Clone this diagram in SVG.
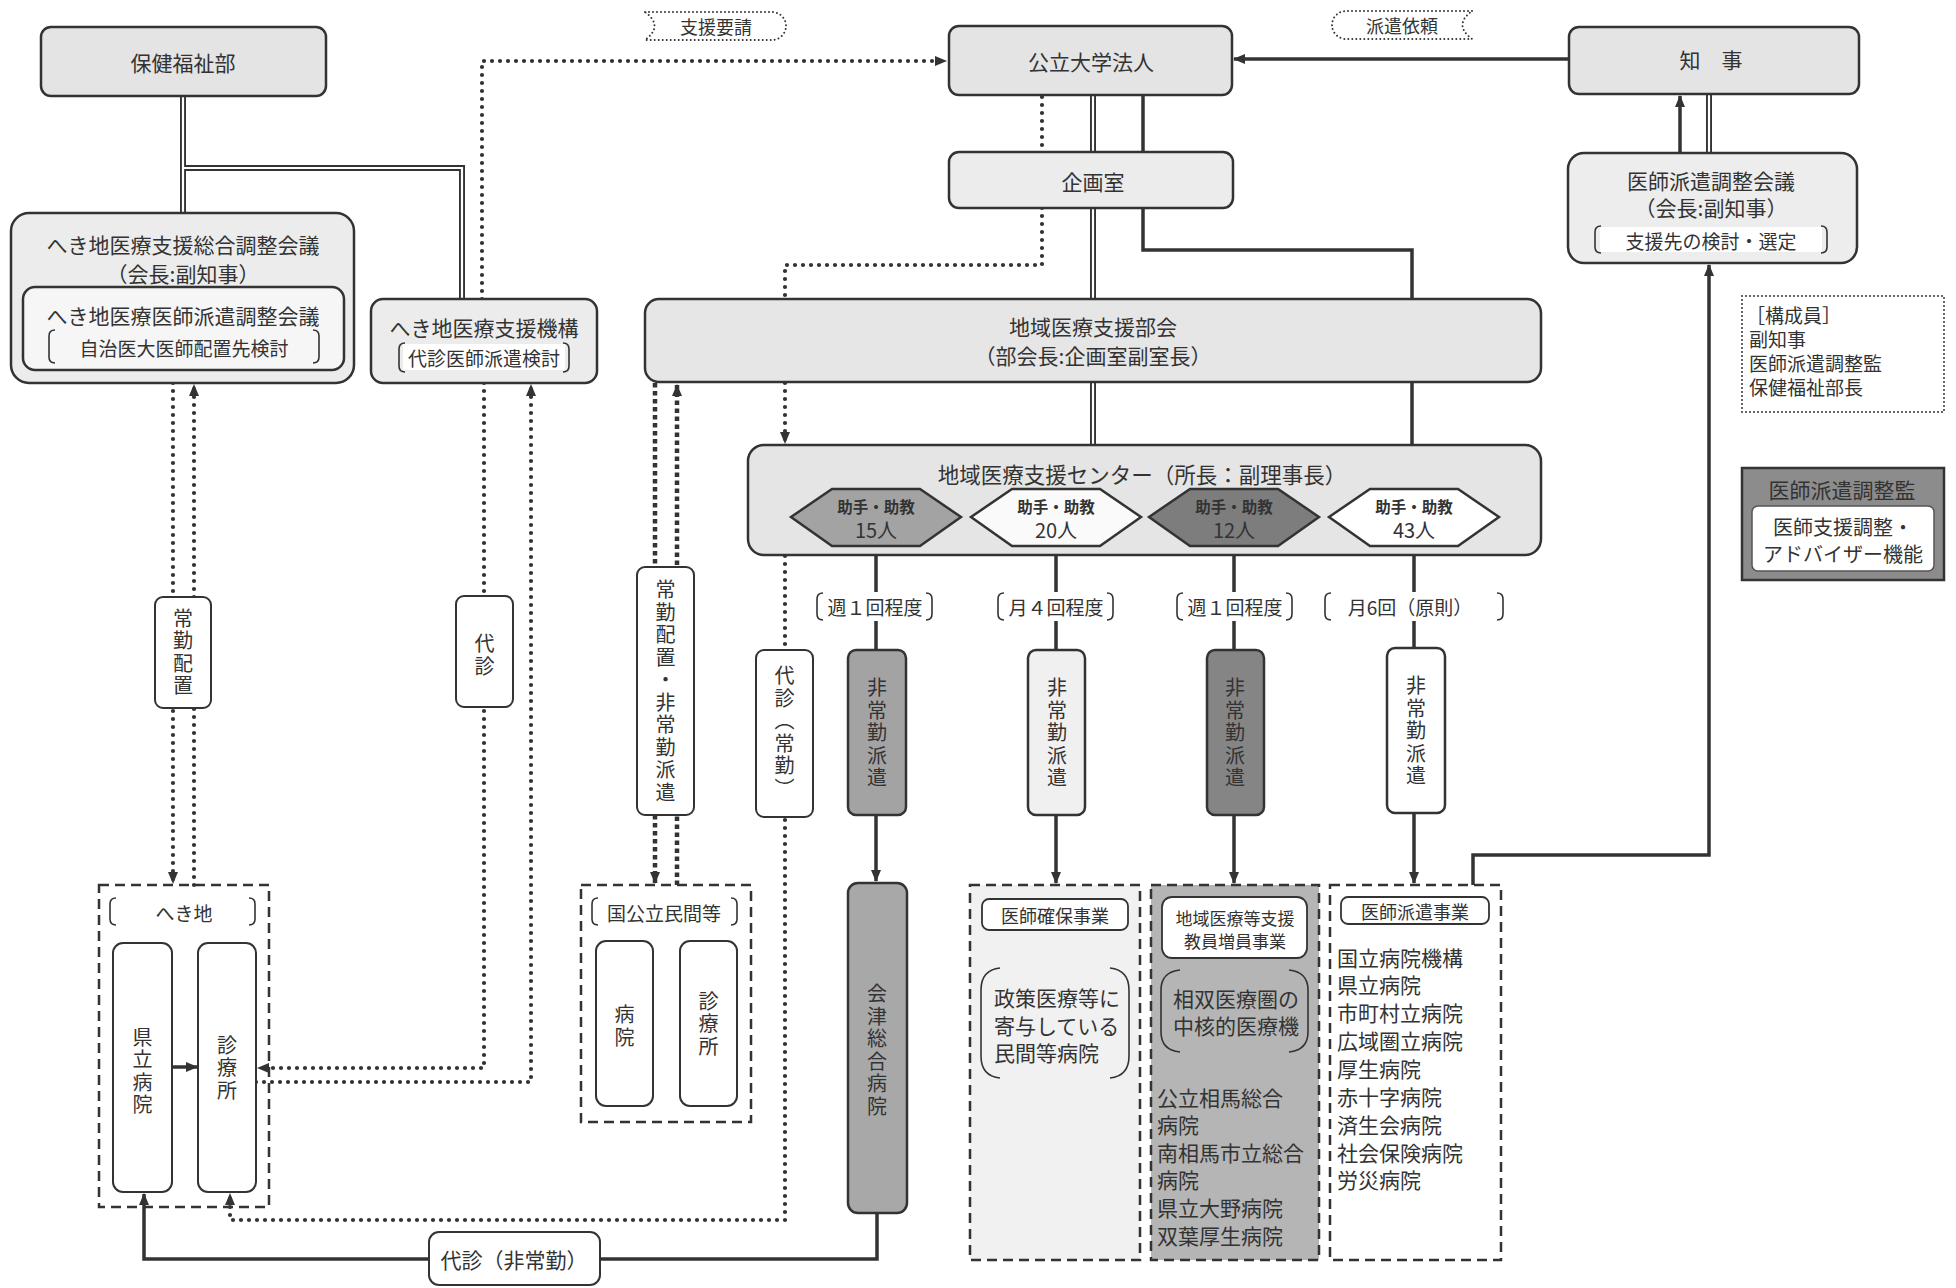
<svg xmlns="http://www.w3.org/2000/svg" width="1956" height="1288" viewBox="0 0 1956 1288">
<defs>
<style>
.t{font-family:"Noto Sans CJK JP","Noto Sans",sans-serif;fill:#333;font-size:21px;text-anchor:middle;dominant-baseline:central}
.s{font-size:19px}
.l{text-anchor:start}
.v{writing-mode:vertical-rl;font-size:20px;letter-spacing:2.5px}
.hx{font-size:15.5px;font-weight:bold}
.num{font-size:20px}
.b{fill:#e4e4e4;stroke:#333;stroke-width:2.5}
.w{fill:#fff;stroke:#333;stroke-width:2}
.br{fill:none;stroke:#333;stroke-width:1.6}
.dash{stroke:#333;stroke-width:2.5;stroke-dasharray:10 6}
.sol{fill:none;stroke:#333;stroke-width:3.5}
.dbo{fill:none;stroke:#333;stroke-width:6}
.dbi{fill:none;stroke:#fff;stroke-width:2.2}
.dot{fill:none;stroke:#333;stroke-width:4.2;stroke-dasharray:0 8;stroke-linecap:round}
.sq{fill:none;stroke:#333;stroke-width:4.5;stroke-dasharray:4.5 3.5}
.lbl{fill:none;stroke:#333;stroke-width:2;stroke-dasharray:0 4;stroke-linecap:round}
</style>
<marker id="ah" viewBox="0 0 12 10" refX="11" refY="5" markerWidth="12" markerHeight="10" markerUnits="userSpaceOnUse" orient="auto"><path d="M0,0 L12,5 L0,10 z" fill="#333"/></marker>
</defs>
<rect width="1956" height="1288" fill="#fff"/>

<g id="connectors">
<path class="dbo" d="M183,96 V213 M183,168 H462 V299 M1093,95 V152 M1093,208 V445 M1709,94 V153"/>
<path class="dbi" d="M183,96 V213 M183,168 H462 V299 M1093,95 V152 M1093,208 V445 M1709,94 V153"/>
<path class="sol" d="M1143,95 V152"/>
<path class="sol" d="M1143,208 V250 H1412 V488" marker-end="url(#ah)"/>
<path class="sol" d="M1569,59 H1234" marker-end="url(#ah)"/>
<path class="sol" d="M1680,153 V96" marker-end="url(#ah)"/>
<path class="sol" d="M1473,885 V855 H1709 V265" marker-end="url(#ah)"/>
<path class="sol" d="M876,546 V592 M876,621 V650"/>
<path class="sol" d="M876,815 V881" marker-end="url(#ah)"/>
<path class="sol" d="M1056,546 V592 M1056,621 V650"/>
<path class="sol" d="M1056,815 V883" marker-end="url(#ah)"/>
<path class="sol" d="M1234,546 V592 M1234,621 V650"/>
<path class="sol" d="M1234,815 V883" marker-end="url(#ah)"/>
<path class="sol" d="M1414,546 V592 M1414,621 V648"/>
<path class="sol" d="M1414,813 V883" marker-end="url(#ah)"/>
<path class="sol" d="M877,1213 V1259 H600"/>
<path class="sol" d="M429,1259 H144 V1194" marker-end="url(#ah)"/>
<path class="sol" d="M172,1067 H197" stroke-width="5" marker-end="url(#ah)"/>
<path class="dot" d="M173,383 V883" marker-end="url(#ah)"/>
<path class="dot" d="M194,885 V385" marker-end="url(#ah)"/>
<path class="dot" d="M482,299 V61 H946" marker-end="url(#ah)"/>
<path class="dot" d="M484,383 V1068 H258" marker-end="url(#ah)"/>
<path class="dot" d="M256,1082 H531 V385" marker-end="url(#ah)"/>
<path class="dot" d="M1042,97 V152"/>
<path class="dot" d="M1042,208 V265 H785 V443" marker-end="url(#ah)"/>
<path class="dot" d="M785,556 V1220 H230 V1194" marker-end="url(#ah)"/>
<path class="sq" d="M655,383 V883" marker-end="url(#ah)"/>
<path class="sq" d="M677,885 V385" marker-end="url(#ah)"/>
</g>

<g id="label-shienyousei">
<path class="lbl" d="M645,12 H772 A14,14 0 0 1 772,40 H645 Q664,26 645,12 Z"/>
<text class="t" x="716" y="26" style="font-size:18px">支援要請</text>
</g>
<g id="label-hakenirai">
<path class="lbl" d="M1472,11 H1346 A14,14 0 0 0 1346,39 H1472 Q1453,25 1472,11 Z"/>
<text class="t" x="1402" y="25" style="font-size:18px">派遣依頼</text>
</g>

<g id="hokenfukushibu">
<rect class="b" x="41" y="27" width="285" height="69" rx="10"/>
<text class="t" x="183" y="62">保健福祉部</text>
</g>

<g id="koritsudaigaku">
<rect class="b" x="949" y="26" width="283" height="69" rx="10"/>
<text class="t" x="1091" y="61">公立大学法人</text>
</g>

<g id="chiji">
<rect class="b" x="1569" y="27" width="290" height="67" rx="10"/>
<text class="t" x="1711" y="59">知　事</text>
</g>

<g id="kikakushitsu">
<rect class="b" x="949" y="152" width="284" height="56" rx="10" style="fill:#ececec"/>
<text class="t" x="1093" y="181">企画室</text>
</g>

<g id="ishihaken-kaigi">
<rect class="b" x="1568" y="153" width="289" height="110" rx="16" style="fill:#ededed"/>
<text class="t" x="1711" y="180">医師派遣調整会議</text>
<text class="t" x="1711" y="207">（会長:副知事）</text>
<rect x="1600" y="227" width="222" height="25" fill="#fff"/>
<path class="br" d="M1601,226 Q1595,226 1595,232 V247 Q1595,253 1601,253 M1821,226 Q1827,226 1827,232 V247 Q1827,253 1821,253"/>
<text class="t s" x="1711" y="240">支援先の検討・選定</text>
</g>

<g id="hekichi-sogo">
<rect class="b" x="11" y="213" width="343" height="170" rx="18" style="fill:#ececec"/>
<text class="t" x="183" y="244">へき地医療支援総合調整会議</text>
<text class="t" x="183" y="273">（会長:副知事）</text>
<rect x="23" y="287" width="321" height="83" rx="12" fill="#f6f6f6" stroke="#333" stroke-width="2.5"/>
<text class="t" x="183" y="315">へき地医療医師派遣調整会議</text>
<path class="br" d="M55,330 Q49,330 49,336 V357 Q49,363 55,363 M313,330 Q319,330 319,336 V357 Q319,363 313,363"/>
<text class="t s" x="184" y="347">自治医大医師配置先検討</text>
</g>

<g id="hekichi-kiko">
<rect class="b" x="371" y="299" width="226" height="84" rx="12" style="fill:#ececec"/>
<text class="t" x="484" y="327">へき地医療支援機構</text>
<rect x="403" y="344" width="162" height="26" fill="#fff"/>
<path class="br" d="M405,343 Q399,343 399,349 V366 Q399,372 405,372 M563,343 Q569,343 569,349 V366 Q569,372 563,372"/>
<text class="t s" x="484" y="357">代診医師派遣検討</text>
</g>

<g id="chiiki-bukai">
<rect class="b" x="645" y="299" width="896" height="83" rx="14" style="fill:#e6e6e6"/>
<text class="t" x="1093" y="326">地域医療支援部会</text>
<text class="t" x="1093" y="355">（部会長:企画室副室長）</text>
</g>

<g id="koseiin">
<rect x="1742" y="296" width="202" height="116" fill="#fff" stroke="#333" stroke-width="2" stroke-dasharray="0 4" stroke-linecap="round"/>
<text class="t l s" x="1746" y="314">［構成員］</text>
<text class="t l s" x="1749" y="338">副知事</text>
<text class="t l s" x="1749" y="362">医師派遣調整監</text>
<text class="t l s" x="1749" y="386">保健福祉部長</text>
</g>

<g id="ishihaken-kantoku">
<rect x="1742" y="468" width="202" height="112" fill="#8c8c8c" stroke="#333" stroke-width="2.5"/>
<text class="t" x="1842" y="489">医師派遣調整監</text>
<rect x="1752" y="506" width="182" height="65" rx="6" fill="#fff" stroke="#555" stroke-width="1.5"/>
<text class="t num" x="1843" y="526">医師支援調整・</text>
<text class="t num" x="1843" y="553">アドバイザー機能</text>
</g>

<g id="center">
<rect class="b" x="748" y="445" width="793" height="110" rx="16" style="fill:#e5e5e5"/>
<text class="t" x="1142" y="473" style="font-size:21.5px">地域医療支援センター（所長：副理事長）</text>
</g>

<g id="hex-15">
<polygon points="791,517 832,489 920,489 961,517 920,546 832,546" fill="#a3a3a3" stroke="#333" stroke-width="2.5"/>
<text class="t hx" x="876" y="506">助手・助教</text>
<text class="t num" x="876" y="529">15人</text>
</g>
<g id="hex-20">
<polygon points="971,517 1012,489 1100,489 1141,517 1100,546 1012,546" fill="#fafafa" stroke="#333" stroke-width="2.5"/>
<text class="t hx" x="1056" y="506">助手・助教</text>
<text class="t num" x="1056" y="529">20人</text>
</g>
<g id="hex-12">
<polygon points="1149,517 1190,489 1278,489 1319,517 1278,546 1190,546" fill="#7d7d7d" stroke="#333" stroke-width="2.5"/>
<text class="t hx" x="1234" y="506">助手・助教</text>
<text class="t num" x="1234" y="529">12人</text>
</g>
<g id="hex-43">
<polygon points="1329,517 1370,489 1458,489 1499,517 1458,546 1370,546" fill="#fff" stroke="#333" stroke-width="2.5"/>
<text class="t hx" x="1414" y="506">助手・助教</text>
<text class="t num" x="1414" y="529">43人</text>
</g>

<g id="freq-labels">
<path class="br" d="M823,593 Q817,593 817,599 V614 Q817,620 823,620 M926,593 Q932,593 932,599 V614 Q932,620 926,620"/>
<text class="t s" x="875" y="606">週１回程度</text>
<path class="br" d="M1004,593 Q998,593 998,599 V614 Q998,620 1004,620 M1107,593 Q1113,593 1113,599 V614 Q1113,620 1107,620"/>
<text class="t s" x="1056" y="606">月４回程度</text>
<path class="br" d="M1183,593 Q1177,593 1177,599 V614 Q1177,620 1183,620 M1286,593 Q1292,593 1292,599 V614 Q1292,620 1286,620"/>
<text class="t s" x="1235" y="606">週１回程度</text>
<path class="br" d="M1331,593 Q1325,593 1325,599 V614 Q1325,620 1331,620 M1497,593 Q1503,593 1503,599 V614 Q1503,620 1497,620"/>
<text class="t s" x="1410" y="606">月6回（原則）</text>
</g>

<g id="haken-15">
<rect x="848" y="650" width="58" height="165" rx="8" fill="#a3a3a3" stroke="#333" stroke-width="2.5"/>
<text class="t v" x="877" y="734">非常勤派遣</text>
</g>
<g id="haken-20">
<rect x="1028" y="650" width="57" height="165" rx="8" fill="#f0f0f0" stroke="#333" stroke-width="2.5"/>
<text class="t v" x="1057" y="734">非常勤派遣</text>
</g>
<g id="haken-12">
<rect x="1207" y="650" width="57" height="165" rx="8" fill="#858585" stroke="#333" stroke-width="2.5"/>
<text class="t v" x="1235" y="734">非常勤派遣</text>
</g>
<g id="haken-43">
<rect x="1387" y="648" width="58" height="165" rx="8" fill="#fff" stroke="#333" stroke-width="2.5"/>
<text class="t v" x="1416" y="732">非常勤派遣</text>
</g>

<g id="label-jokin">
<rect class="w" x="155" y="597" width="56" height="111" rx="8"/>
<text class="t v" x="183" y="653">常勤配置</text>
</g>
<g id="label-daishin">
<rect class="w" x="456" y="596" width="57" height="111" rx="8"/>
<text class="t v" x="484.5" y="656">代診</text>
</g>
<g id="label-jokin-hijokin">
<rect class="w" x="637" y="567" width="57" height="248" rx="8"/>
<text class="t v" x="665.5" y="692">常勤配置・非常勤派遣</text>
</g>
<g id="label-daishin-jokin">
<rect class="w" x="756" y="650" width="57" height="167" rx="8"/>
<text class="t v" x="784.5" y="733">代診（常勤）</text>
</g>

<g id="aizu">
<rect x="848" y="883" width="59" height="330" rx="10" fill="#a8a8a8" stroke="#333" stroke-width="2.5"/>
<text class="t v" x="877" y="1051">会津総合病院</text>
</g>

<g id="hekichi">
<rect class="dash" x="99" y="885" width="170" height="322" fill="none"/>
<path class="br" d="M116,898 Q110,898 110,904 V919 Q110,925 116,925 M249,898 Q255,898 255,904 V919 Q255,925 249,925"/>
<text class="t s" x="184" y="912">へき地</text>
<rect class="w" x="113" y="943" width="59" height="249" rx="10"/>
<text class="t v" x="142.5" y="1072">県立病院</text>
<rect class="w" x="198" y="943" width="58" height="249" rx="10"/>
<text class="t v" x="227" y="1069">診療所</text>
</g>

<g id="kokkoritsu">
<rect class="dash" x="581" y="885" width="170" height="237" fill="none"/>
<path class="br" d="M598,898 Q592,898 592,904 V919 Q592,925 598,925 M731,898 Q737,898 737,904 V919 Q737,925 731,925"/>
<text class="t s" x="664" y="912">国公立民間等</text>
<rect class="w" x="596" y="941" width="57" height="165" rx="10"/>
<text class="t v" x="624.5" y="1027">病院</text>
<rect class="w" x="680" y="941" width="57" height="165" rx="10"/>
<text class="t v" x="708.5" y="1025">診療所</text>
</g>

<g id="ishikakuho">
<rect class="dash" x="970" y="885" width="170" height="375" fill="#f1f1f1"/>
<rect x="982" y="899" width="146" height="31" rx="7" fill="#fff" stroke="#333" stroke-width="1.8"/>
<text class="t" x="1055" y="915" style="font-size:18px">医師確保事業</text>
<path class="br" d="M1000,968 Q981,970 981,990 V1056 Q981,1076 1000,1078 M1110,968 Q1129,970 1129,990 V1056 Q1129,1076 1110,1078"/>
<text class="t l" x="994" y="997">政策医療等に</text>
<text class="t l" x="994" y="1025">寄与している</text>
<text class="t l" x="994" y="1052">民間等病院</text>
</g>

<g id="chiiki-kyoin">
<rect class="dash" x="1151" y="885" width="168" height="375" fill="#b5b5b5"/>
<rect x="1162" y="897" width="145" height="61" rx="10" fill="#fff" stroke="#333" stroke-width="1.8"/>
<text class="t" x="1235" y="917" style="font-size:17px">地域医療等支援</text>
<text class="t" x="1235" y="940" style="font-size:17px">教員増員事業</text>
<path class="br" d="M1180,970 Q1161,972 1161,990 V1032 Q1161,1050 1180,1052 M1289,970 Q1308,972 1308,990 V1032 Q1308,1050 1289,1052"/>
<text class="t" x="1236" y="998">相双医療圏の</text>
<text class="t" x="1236" y="1025">中核的医療機</text>
<text class="t l" x="1157" y="1097">公立相馬総合</text>
<text class="t l" x="1157" y="1124">病院</text>
<text class="t l" x="1157" y="1152">南相馬市立総合</text>
<text class="t l" x="1157" y="1179">病院</text>
<text class="t l" x="1157" y="1207">県立大野病院</text>
<text class="t l" x="1157" y="1235">双葉厚生病院</text>
</g>

<g id="ishihaken-jigyo">
<rect class="dash" x="1330" y="885" width="171" height="375" fill="#fff"/>
<rect x="1341" y="897" width="148" height="27" rx="7" fill="#fff" stroke="#333" stroke-width="1.8"/>
<text class="t" x="1415" y="911" style="font-size:18px">医師派遣事業</text>
<text class="t l" x="1337" y="957">国立病院機構</text>
<text class="t l" x="1337" y="984">県立病院</text>
<text class="t l" x="1337" y="1012">市町村立病院</text>
<text class="t l" x="1337" y="1040">広域圏立病院</text>
<text class="t l" x="1337" y="1068">厚生病院</text>
<text class="t l" x="1337" y="1096">赤十字病院</text>
<text class="t l" x="1337" y="1124">済生会病院</text>
<text class="t l" x="1337" y="1152">社会保険病院</text>
<text class="t l" x="1337" y="1179">労災病院</text>
</g>

<g id="label-daishin-hijokin">
<rect class="w" x="429" y="1232" width="171" height="53" rx="10"/>
<text class="t" x="514" y="1259">代診（非常勤）</text>
</g>
</svg>
